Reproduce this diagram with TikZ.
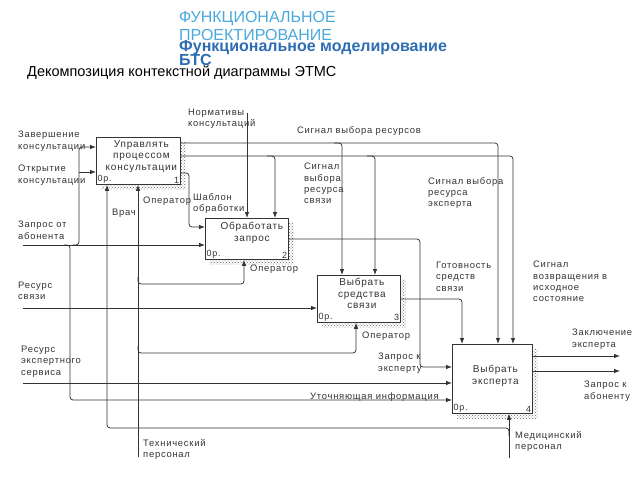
\documentclass[tikz,border=0pt]{standalone}
\usepackage{fontspec}
\setmainfont{Liberation Sans}
\newfontfamily\lblfont[LetterSpace=8]{Liberation Sans}
\usetikzlibrary{arrows.meta,patterns}
\definecolor{hdlight}{HTML}{4AA8DC}
\definecolor{hddark}{HTML}{2E6DB4}
\definecolor{ln}{HTML}{333333}

\begin{document}
\begin{tikzpicture}[x=1pt,y=-1pt,
    func/.style={draw=ln,fill=white,line width=0.75pt,inner sep=0pt,anchor=north west},
    hatch/.style={pattern=crosshatch dots,pattern color=black!60},
    flow/.style={draw=ln,line width=0.75pt,rounded corners=3pt,-{Latex[length=6pt,width=4.5pt]}},
    lbl/.style={font=\lblfont\fontsize{9.4}{11.3}\selectfont,text=black!80,align=left,anchor=north west,inner sep=0pt},
    boxtxt/.style={font=\lblfont\fontsize{10}{11.5}\selectfont,text=black!80,align=center,inner sep=0pt},
    num/.style={font=\lblfont\fontsize{9}{10}\selectfont,text=black!80,inner sep=1.5pt},
    head/.style={anchor=base west,inner sep=0pt}]
\useasboundingbox (0,0) rectangle (640,480);

\node[head,text=hdlight,font=\fontsize{16}{18}\selectfont] (hd1a) at (179,22) {ФУНКЦИОНАЛЬНОЕ};
\node[head,text=hdlight,font=\fontsize{16}{18}\selectfont] (hd1b) at (179,40) {ПРОЕКТИРОВАНИЕ};
\node[head,text=hddark,font=\bfseries\fontsize{16}{18}\selectfont] (hd2a) at (179,51) {Функциональное моделирование};
\node[head,text=hddark,font=\bfseries\fontsize{16}{18}\selectfont] (hd2b) at (179,65) {БТС};
\node[head,font=\fontsize{14.5}{17}\selectfont] (ttl) at (27,76) {Декомпозиция контекстной диаграммы ЭТМС};

\node[func,minimum width=84pt,minimum height=47pt] (b1) at (96,137) {};
\node[func,minimum width=83pt,minimum height=41pt] (b2) at (205,218) {};
\node[func,minimum width=83pt,minimum height=47pt] (b3) at (317,275) {};
\node[func,minimum width=80pt,minimum height=69pt] (b4) at (452,344) {};
\foreach \b in {b1,b2,b3,b4}
  \fill[hatch] ([yshift=-5pt]\b.north east) rectangle ([shift={(5pt,-5pt)}]\b.south east)
               ([xshift=5pt]\b.south west) rectangle ([shift={(5pt,-5pt)}]\b.south east);

\node[boxtxt,anchor=north] (t1) at ([shift={(3pt,-3pt)}]b1.north) {Управлять\\процессом\\консультации};
\node[boxtxt,anchor=north] (t2) at ([shift={(5pt,-4pt)}]b2.north) {Обработать\\запрос};
\node[boxtxt,anchor=north] (t3) at ([shift={(3pt,-3pt)}]b3.north) {Выбрать\\средства\\связи};
\node[boxtxt] (t4) at ([shift={(3pt,3pt)}]b4.center) {Выбрать\\эксперта};
\foreach \b/\n in {b1/1,b2/2,b3/3,b4/4} {
  \node[num,anchor=south west] (\b op) at (\b.south west) {0р.};
  \node[num,anchor=south east] (\b no) at (\b.south east) {\n};
}

\coordinate (zapr) at (23,245);
\draw[flow] (zapr) -- (b2.west |- zapr);
\coordinate (zav) at (79,147);
\draw[flow] (73,245) -| (zav) -- (b1.west |- zav);
\coordinate (otk) at (79,172);
\draw[flow] (otk) -- (b1.west |- otk);
\coordinate (utoch) at (70,400);
\draw[flow] (64,245) -| (utoch) -- (b4.west |- utoch);
\coordinate (svyaz) at (23,308);
\draw[flow] (svyaz) -- (b3.west |- svyaz);
\coordinate (ekserv) at (23,383);
\draw[flow] (ekserv) -- (b4.west |- ekserv);

\coordinate (norm) at (247,113);
\draw[flow] (norm) -- (norm |- b2.north);
\coordinate (sres) at (498,143);
\draw[flow] (b1.east |- sres) -| (sres |- b4.north);
\coordinate (ssv) at (342,143);
\draw[flow] (334,143) -| (ssv |- b3.north);
\coordinate (svoz) at (513,156);
\draw[flow] (b1.east |- svoz) -| (svoz |- b4.north);
\coordinate (sb2) at (275,156);
\draw[flow] (267,156) -| (sb2 |- b2.north);
\coordinate (sb3) at (375,156);
\draw[flow] (367,156) -| (sb3 |- b3.north);
\coordinate (shabl) at (189,173);
\coordinate (shabl2) at (189,227);
\draw[flow] (b1.east |- shabl) -| (shabl2) -- (b2.west |- shabl2);

\coordinate (zexp) at (420,239);
\coordinate (zexp2) at (420,367);
\draw[flow] (b2.east |- zexp) -| (zexp2) -- (b4.west |- zexp2);
\coordinate (gotov) at (462,299);
\draw[flow] (b3.east |- gotov) -| (gotov |- b4.north);
\coordinate (zakl) at (620,356);
\draw[flow] (b4.east |- zakl) -- (zakl);
\coordinate (zab) at (620,371);
\draw[flow] (b4.east |- zab) -- (zab);

\coordinate (medp) at (509,458);
\draw[flow] (medp) -- (medp |- b4.south);
\coordinate (vrach) at (107,428);
\draw[flow] (509,436) |- (vrach) -- (vrach |- b1.south);
\coordinate (tehp) at (138,457);
\draw[flow] (tehp) -- (tehp |- b1.south);
\coordinate (op2) at (244,284);
\draw[flow] (138,277) |- (op2) -- (op2 |- b2.south);
\coordinate (op3) at (356,353);
\draw[flow] (138,346) |- (op3) -- (op3 |- b3.south);

\node[lbl] (l1) at (18,131) {Завершение\\консультации};
\node[lbl] (l2) at (18,165) {Открытие\\консультации};
\node[lbl] (l3) at (18,221) {Запрос от\\абонента};
\node[lbl] (l4) at (18,282) {Ресурс\\связи};
\node[lbl] (l5) at (21,346) {Ресурс\\экспертного\\сервиса};
\node[lbl] (l6) at (188,109) {Нормативы\\консультаций};
\node[lbl] (l7) at (297,126) {Сигнал выбора ресурсов};
\node[lbl] (l8) at (304,163) {Сигнал\\выбора\\ресурса\\связи};
\node[lbl] (l9) at (428,177) {Сигнал выбора\\ресурса\\эксперта};
\node[lbl] (l10) at (193,193) {Шаблон\\обработки};
\node[lbl] (l11) at (143,197) {Оператор};
\node[lbl] (l12) at (112,209) {Врач};
\node[lbl] (l13) at (250,265) {Оператор};
\node[lbl] (l14) at (362,332) {Оператор};
\node[lbl] (l15) at (436,262) {Готовность\\средств\\связи};
\node[lbl] (l16) at (533,261) {Сигнал\\возвращения в\\исходное\\состояние};
\node[lbl] (l17) at (572,329) {Заключение\\эксперта};
\node[lbl] (l18) at (584,381) {Запрос к\\абоненту};
\node[lbl] (l19) at (378,353) {Запрос к\\эксперту};
\node[lbl] (l20) at (310,392) {Уточняющая информация};
\node[lbl] (l21) at (143,439) {Технический\\персонал};
\node[lbl] (l22) at (515,431) {Медицинский\\персонал};
\end{tikzpicture}
\end{document}
